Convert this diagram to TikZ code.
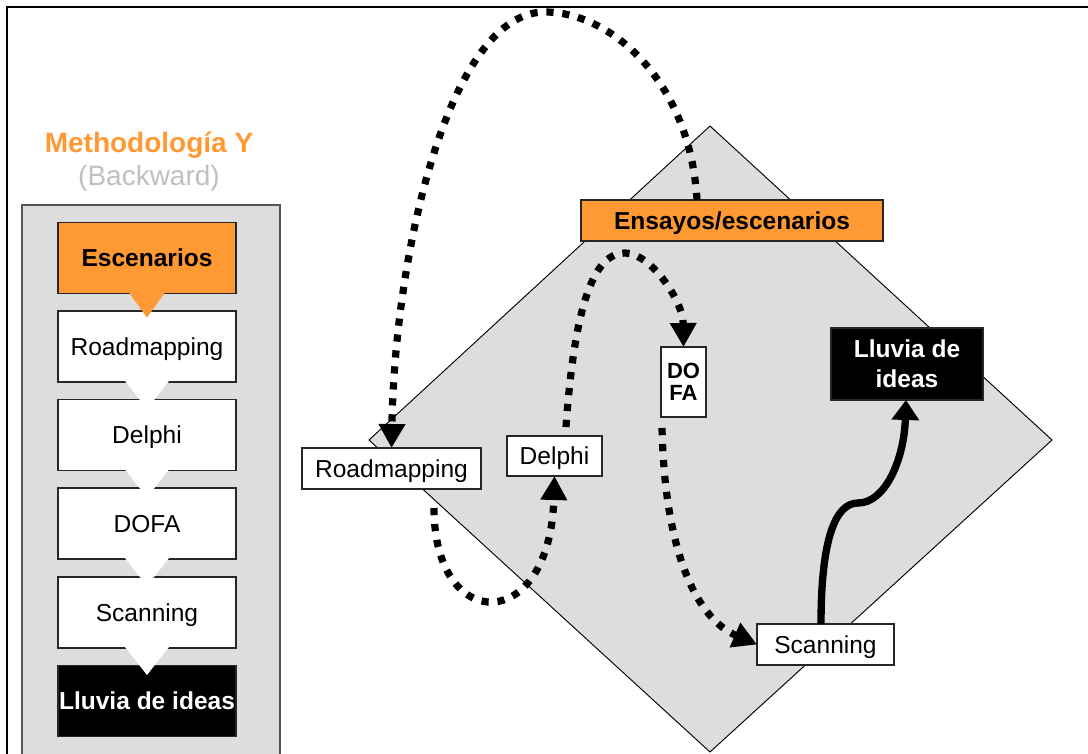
\documentclass[tikz,border=0pt]{standalone}
\usepackage{fontspec}
\setmainfont{Liberation Sans}
\usetikzlibrary{arrows.meta,calc}
\definecolor{orng}{HTML}{FF9933}
\definecolor{panelgray}{HTML}{DDDDDD}
\definecolor{titlegray}{HTML}{C0C0C0}
\definecolor{edgegray}{HTML}{555555}
\begin{document}
\begin{tikzpicture}[x=0.75pt,y=-0.75pt,
  box/.style={draw=black!85, line width=0.8pt, inner sep=0pt, outer sep=0pt, align=center,
    font=\fontsize{18.4}{22}\selectfont, text=black, fill=white},
  oneline/.style={text height=13pt, text depth=0.25pt},
  lbox/.style={box, oneline, minimum width=133.5pt, minimum height=53.25pt},
  obox/.style={fill=orng, font=\bfseries\fontsize{18.4}{22}\selectfont},
  kbox/.style={fill=black, text=white, font=\bfseries\fontsize{18.4}{22}\selectfont},
  dotarrow/.style={line width=5.4pt, dash pattern=on 5.4pt off 6.6pt, -{Triangle[width=19pt,length=18pt]}},
  solidarrow/.style={line width=5.5pt, -{Triangle[width=20pt,length=15pt]}},
  title/.style={font=\fontsize{21}{25}\selectfont, anchor=base, inner sep=0pt}
]
\useasboundingbox (0,0) rectangle (1088,753);
\clip (0,0) rectangle (1088,753);
\fill[white] (0,0) rectangle (1088,753);
% frame
\draw[line width=1.6pt] (7,800) -- (7,7) -- (1100,7);
% title
\node[title, text=orng, font=\bfseries\fontsize{21}{25}\selectfont] (t1) at (149,152) {Methodología Y};
\node[title, text=titlegray] (t2) at (149,185) {(Backward)};
% left panel
\draw[fill=panelgray, draw=edgegray, line width=1pt] (22,205) rectangle (280,790);
\node[lbox, obox] (l1) at (147,258) {Escenarios};
\node[lbox] (l2) at (147,346.5) {Roadmapping};
\node[lbox] (l3) at (147,435) {Delphi};
\node[lbox] (l4) at (147,523.5) {DOFA};
\node[lbox] (l5) at (147,612.5) {Scanning};
\node[lbox, kbox] (l6) at (147,701) {Lluvia de ideas};
\fill[orng] ($(l1.south)+(-18,-1)$) -- ($(l1.south)+(18,-1)$) -- ($(l1.south)+(0,24)$) -- cycle;
\foreach \b in {l2,l3,l4,l5}{
  \fill[white] ($(\b.south)+(-22,-1)$) -- ($(\b.south)+(22,-1)$) -- ($(\b.south)+(0,27)$) -- cycle;
}
% diamond
\draw[fill=panelgray, line width=0.7pt] (710,126) -- (1052,440) -- (710,752) -- (369,440) -- cycle;
% right nodes
\node[box, oneline, obox, minimum width=226.5pt, minimum height=30.75pt] (ens) at (732,220.5) {Ensayos/escenarios};
\node[box, oneline, minimum width=134.25pt, minimum height=30.75pt] (rm) at (391.5,468.5) {Roadmapping};
\node[box, oneline, minimum width=71.25pt, minimum height=30pt] (del) at (554.5,456) {Delphi};
\node[box, minimum width=33.75pt, minimum height=52.5pt, font=\bfseries\fontsize{16.5}{16.5}\selectfont] (dofa) at (683.5,382) {DO\\FA};
\node[box, kbox, minimum width=114pt, minimum height=54pt, font=\bfseries\fontsize{18.4}{22.5}\selectfont] (llu) at (907,364) {Lluvia de\\ideas};
\node[box, oneline, minimum width=102.75pt, minimum height=30.75pt] (scan) at (825.5,644.5) {Scanning};
% connectors
\draw[dotarrow] ($(ens.north)+(-35,0)$) .. controls (690,80) and (610,12) .. (545,12)
   .. controls (450,12) and (395,250) .. (rm.north);
\draw[dotarrow] ($(rm.south)+(42.5,19)$) .. controls (434,635) and (550,635) .. (del.south);
\draw[dotarrow] ($(del.north)+(11.5,-9)$) .. controls (575,300) and (595,253) .. (625,253)
   .. controls (650,253) and (683,300) .. (dofa.north);
\draw[dotarrow] ($(dofa.south)+(-21.5,11)$) .. controls (665,560) and (700,620) .. (scan.west);
\draw[solidarrow] ($(scan.north)+(-4.5,0)$) .. controls (821,540) and (835,503) .. (858,503)
   .. controls (885,503) and (904,460) .. ($(llu.south)+(-1,0)$);
\end{tikzpicture}
\end{document}
